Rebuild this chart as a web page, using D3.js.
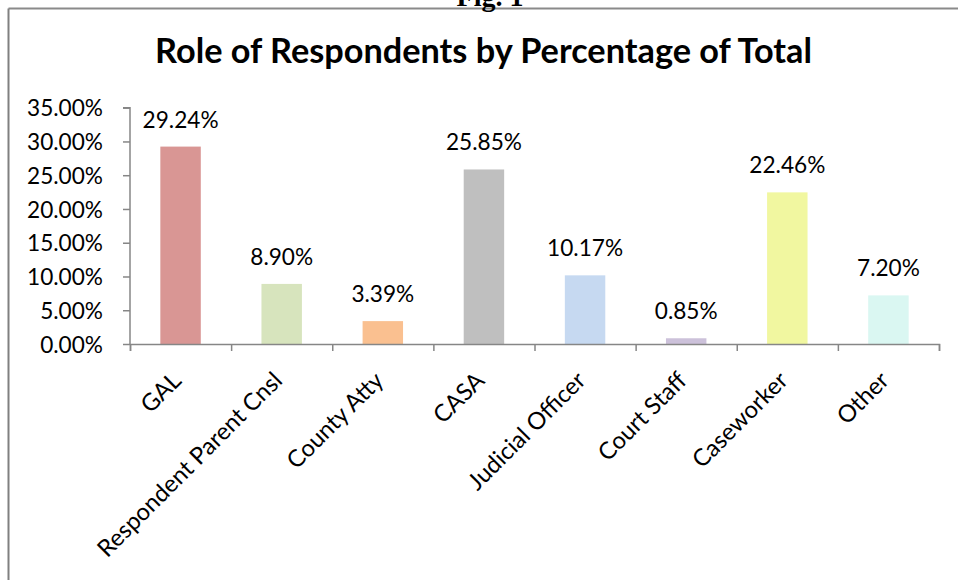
<!DOCTYPE html>
<html><head><meta charset="utf-8">
<script src="https://cdn.jsdelivr.net/npm/d3@7"></script>
<style>body{margin:0;background:#fff;}svg{display:block;}</style>
</head><body>
<svg id="chart" width="958" height="580"></svg>
<script>
const categories = ["GAL","Respondent Parent Cnsl","County Atty","CASA","Judicial Officer","Court Staff","Caseworker","Other"];
const values = [29.24, 8.90, 3.39, 25.85, 10.17, 0.85, 22.46, 7.20];
const colors = ["#D99694","#D7E4BD","#FAC090","#BFBFBF","#C6D9F1","#CCC1DA","#F1F7A0","#DAF7F2"];
const yTicks = [0,5,10,15,20,25,30,35];
const titleText = "Role of Respondents by Percentage of Total";
const figText = "Fig. 1";

const svg = d3.select("#chart");
const FONT = "Lato, 'Open Sans', sans-serif";

function fitSize(text, weight, targetW){
  const t = svg.append("text").attr("font-family",FONT).attr("font-weight",weight).attr("font-size",20).text(text);
  const w = t.node().getComputedTextLength(); t.remove();
  return 20*targetW/w;
}
const labelSize = fitSize("35.00%","normal",76);
const catSize = labelSize*1.05;
const titleSize = fitSize(titleText,"bold",657);

// frame
svg.append("line").attr("x1",8.5).attr("x2",958).attr("y1",8.5).attr("y2",8.5).attr("stroke","#8a8a8a").attr("stroke-width",2);
svg.append("line").attr("x1",8.5).attr("x2",8.5).attr("y1",8.5).attr("y2",580).attr("stroke","#808080").attr("stroke-width",2);

svg.append("text").attr("x",490).attr("y",6).attr("text-anchor","middle")
  .attr("font-family","'Liberation Serif', serif").attr("font-weight","bold").attr("font-size",28).text(figText);

svg.append("text").attr("x",483.5).attr("y",63).attr("text-anchor","middle")
  .attr("font-family",FONT).attr("font-weight","bold").attr("font-size",titleSize).attr("fill","#000").text(titleText);

const x0=130, x1=939, yBottom=344, yTop=107.7;
const x = d3.scaleBand().domain(categories).range([x0,x1]).paddingInner(0.6).paddingOuter(0.3);
const y = d3.scaleLinear().domain([0,35]).range([yBottom,yTop]);

// bars
svg.append("g").selectAll("rect").data(values).join("rect")
  .attr("x",(d,i)=>x(categories[i])).attr("width",x.bandwidth())
  .attr("y",d=>y(d)).attr("height",d=>yBottom-y(d)).attr("fill",(d,i)=>colors[i]);

// y axis
const yAxis = d3.axisLeft(y).tickValues(yTicks).tickSize(7).tickFormat(d=>d3.format(".2f")(d)+"%");
const gy = svg.append("g").attr("transform",`translate(${x0},0)`).call(yAxis);
gy.select(".domain").attr("stroke","#868686").attr("stroke-width",1.5).attr("d",`M-7,${yTop}H0V${yBottom}`);
gy.selectAll(".tick line").attr("stroke","#868686").attr("stroke-width",1.5);
gy.selectAll(".tick text").attr("font-family",FONT).attr("font-size",labelSize).attr("fill","#000").attr("x",-27).attr("dy","0.36em");

// x axis
const xb = d3.scaleLinear().domain([0,categories.length]).range([x0,x1]);
const gx = svg.append("g").attr("transform",`translate(0,${yBottom})`)
  .call(d3.axisBottom(xb).tickValues(d3.range(categories.length+1)).tickSize(7).tickFormat(""));
gx.select(".domain").attr("stroke","#868686").attr("stroke-width",1.5);
gx.selectAll(".tick line").attr("stroke","#868686").attr("stroke-width",1.5);

svg.append("g").selectAll("text").data(categories).join("text")
  .attr("transform",d=>`translate(${x(d)+x.bandwidth()/2+2},${yBottom+38}) rotate(-45)`)
  .attr("text-anchor","end").attr("font-family",FONT).attr("font-size",catSize).attr("fill","#000").text(d=>d);

// data labels
svg.append("g").selectAll("text").data(values).join("text")
  .attr("x",(d,i)=>x(categories[i])+x.bandwidth()/2).attr("y",d=>y(d)-19)
  .attr("text-anchor","middle").attr("font-family",FONT).attr("font-size",labelSize).attr("fill","#000")
  .text(d=>d3.format(".2f")(d)+"%");
</script>
</body></html>
